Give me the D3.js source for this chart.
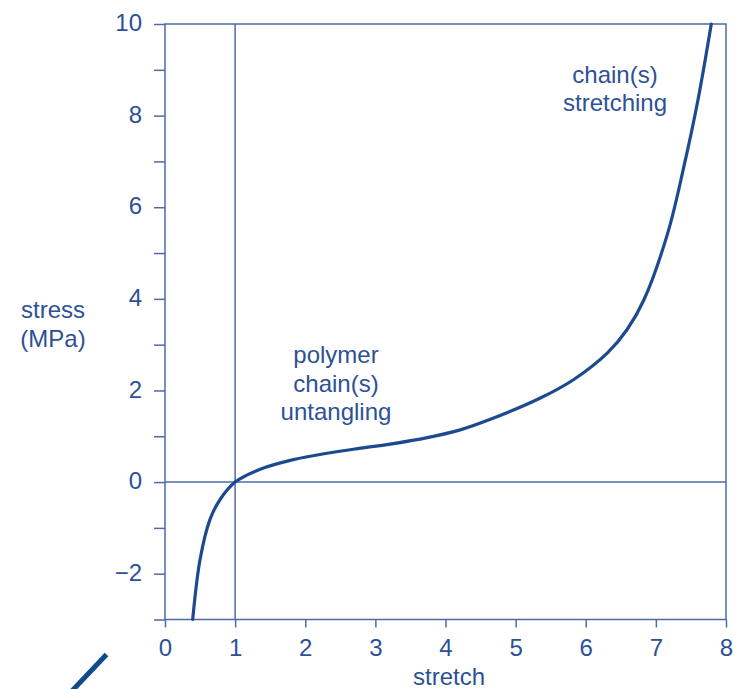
<!DOCTYPE html>
<html>
<head>
<meta charset="utf-8">
<script src="https://cdn.jsdelivr.net/npm/d3@7"></script>
<style>
  html, body { margin: 0; padding: 0; background: #ffffff; }
  svg { display: block; }
  text { font-family: "Liberation Sans", Arial, sans-serif; }
</style>
</head>
<body>
<script>
// ---- data ----
const stretchVals = [0.395, 0.5, 0.643, 0.786, 1, 1.357, 1.83, 2.31, 2.79, 3.26, 3.74, 4.21, 4.64, 5.36, 5.83, 6.31, 6.59, 6.83, 7.17, 7.40, 7.60, 7.79];
const stressVals  = [-3, -1.69, -0.81, -0.38, 0, 0.28, 0.49, 0.63, 0.74, 0.84, 0.97, 1.14, 1.37, 1.84, 2.24, 2.82, 3.33, 3.98, 5.44, 6.89, 8.34, 10];
const xTickVals = [0, 1, 2, 3, 4, 5, 6, 7, 8];
const yTickVals = [-3, -2, -1, 0, 1, 2, 3, 4, 5, 6, 7, 8, 9, 10];
const yLabelVals = [-2, 0, 2, 4, 6, 8, 10];
const yAxisTitle = ["stress", "(MPa)"];
const xAxisTitle = "stretch";
const noteLow = ["polymer", "chain(s)", "untangling"];
const noteHigh = ["chain(s)", "stretching"];

// ---- layout ----
const W = 734, H = 689;
const mLeft = 165, mRight = 726, mTop = 24, mBottom = 619.5;
const axisColor = "#4d6ba5";
const textColor = "#2d5194";
const curveColor = "#1d4a8f";

const svg = d3.select("body").append("svg").attr("width", W).attr("height", H);

const x = d3.scaleLinear().domain([0, 8]).range([mLeft, mRight]);
const y = d3.scaleLinear().domain([-3, 10]).range([mBottom, mTop]);

// frame
const g = svg.append("g");
g.append("rect")
  .attr("x", x(0)).attr("y", y(10))
  .attr("width", x(8) - x(0)).attr("height", y(-3) - y(10))
  .attr("fill", "none").attr("stroke", axisColor).attr("stroke-width", 1.5);

// reference lines x=1 and y=0
g.append("line").attr("x1", x(1)).attr("x2", x(1)).attr("y1", y(10)).attr("y2", y(-3))
  .attr("stroke", axisColor).attr("stroke-width", 1.5);
g.append("line").attr("x1", x(0)).attr("x2", x(8)).attr("y1", y(0)).attr("y2", y(0))
  .attr("stroke", axisColor).attr("stroke-width", 1.5);

// y axis
const yAxis = d3.axisLeft(y).tickValues(yTickVals).tickSize(11).tickPadding(12)
  .tickFormat(d => yLabelVals.includes(d) ? (d < 0 ? "\u2212" + Math.abs(d) : String(d)) : "");
const ya = svg.append("g").attr("transform", `translate(${x(0)},0)`).call(yAxis);
ya.select(".domain").remove();
ya.selectAll(".tick line").attr("stroke", axisColor).attr("stroke-width", 1.5);
ya.selectAll(".tick text").attr("fill", textColor).attr("font-size", 24)
  .attr("font-family", "Liberation Sans, Arial, sans-serif").attr("dy", "0.28em");

// x axis
const xAxis = d3.axisBottom(x).tickValues(xTickVals).tickSize(8).tickPadding(11)
  .tickFormat(d3.format("d"));
const xa = svg.append("g").attr("transform", `translate(0,${y(-3)})`).call(xAxis);
xa.select(".domain").remove();
xa.selectAll(".tick line").attr("stroke", axisColor).attr("stroke-width", 1.5);
xa.selectAll(".tick text").attr("fill", textColor).attr("font-size", 24)
  .attr("font-family", "Liberation Sans, Arial, sans-serif");

// curve
const pts = stretchVals.map((s, i) => [s, stressVals[i]]);
svg.append("path")
  .datum(pts)
  .attr("d", d3.line().x(d => x(d[0])).y(d => y(d[1])).curve(d3.curveCatmullRom.alpha(0.5)))
  .attr("fill", "none").attr("stroke", curveColor).attr("stroke-width", 3.2)
  .attr("stroke-linecap", "round");

// axis titles
svg.append("text").attr("x", 53).attr("y", 318).attr("text-anchor", "middle")
  .attr("font-size", 24).attr("fill", textColor)
  .selectAll("tspan").data(yAxisTitle).join("tspan")
  .attr("x", 53).attr("dy", (d, i) => i === 0 ? 0 : 29).text(d => d);

svg.append("text").attr("x", 449).attr("y", 685).attr("text-anchor", "middle")
  .attr("font-size", 24).attr("fill", textColor).text(xAxisTitle);

// annotations
svg.append("text").attr("y", 363).attr("text-anchor", "middle")
  .attr("font-size", 24).attr("fill", textColor)
  .selectAll("tspan").data(noteLow).join("tspan")
  .attr("x", 336).attr("dy", (d, i) => i === 0 ? 0 : 28.5).text(d => d);

svg.append("text").attr("y", 83).attr("text-anchor", "middle")
  .attr("font-size", 24).attr("fill", textColor)
  .selectAll("tspan").data(noteHigh).join("tspan")
  .attr("x", 615).attr("dy", (d, i) => i === 0 ? 0 : 27.5).text(d => d);

// decorative slash at bottom-left
svg.append("line").attr("x1", 106.5).attr("y1", 654.5).attr("x2", 70).attr("y2", 693)
  .attr("stroke", "#0f4a8c").attr("stroke-width", 5);
</script>
</body>
</html>
